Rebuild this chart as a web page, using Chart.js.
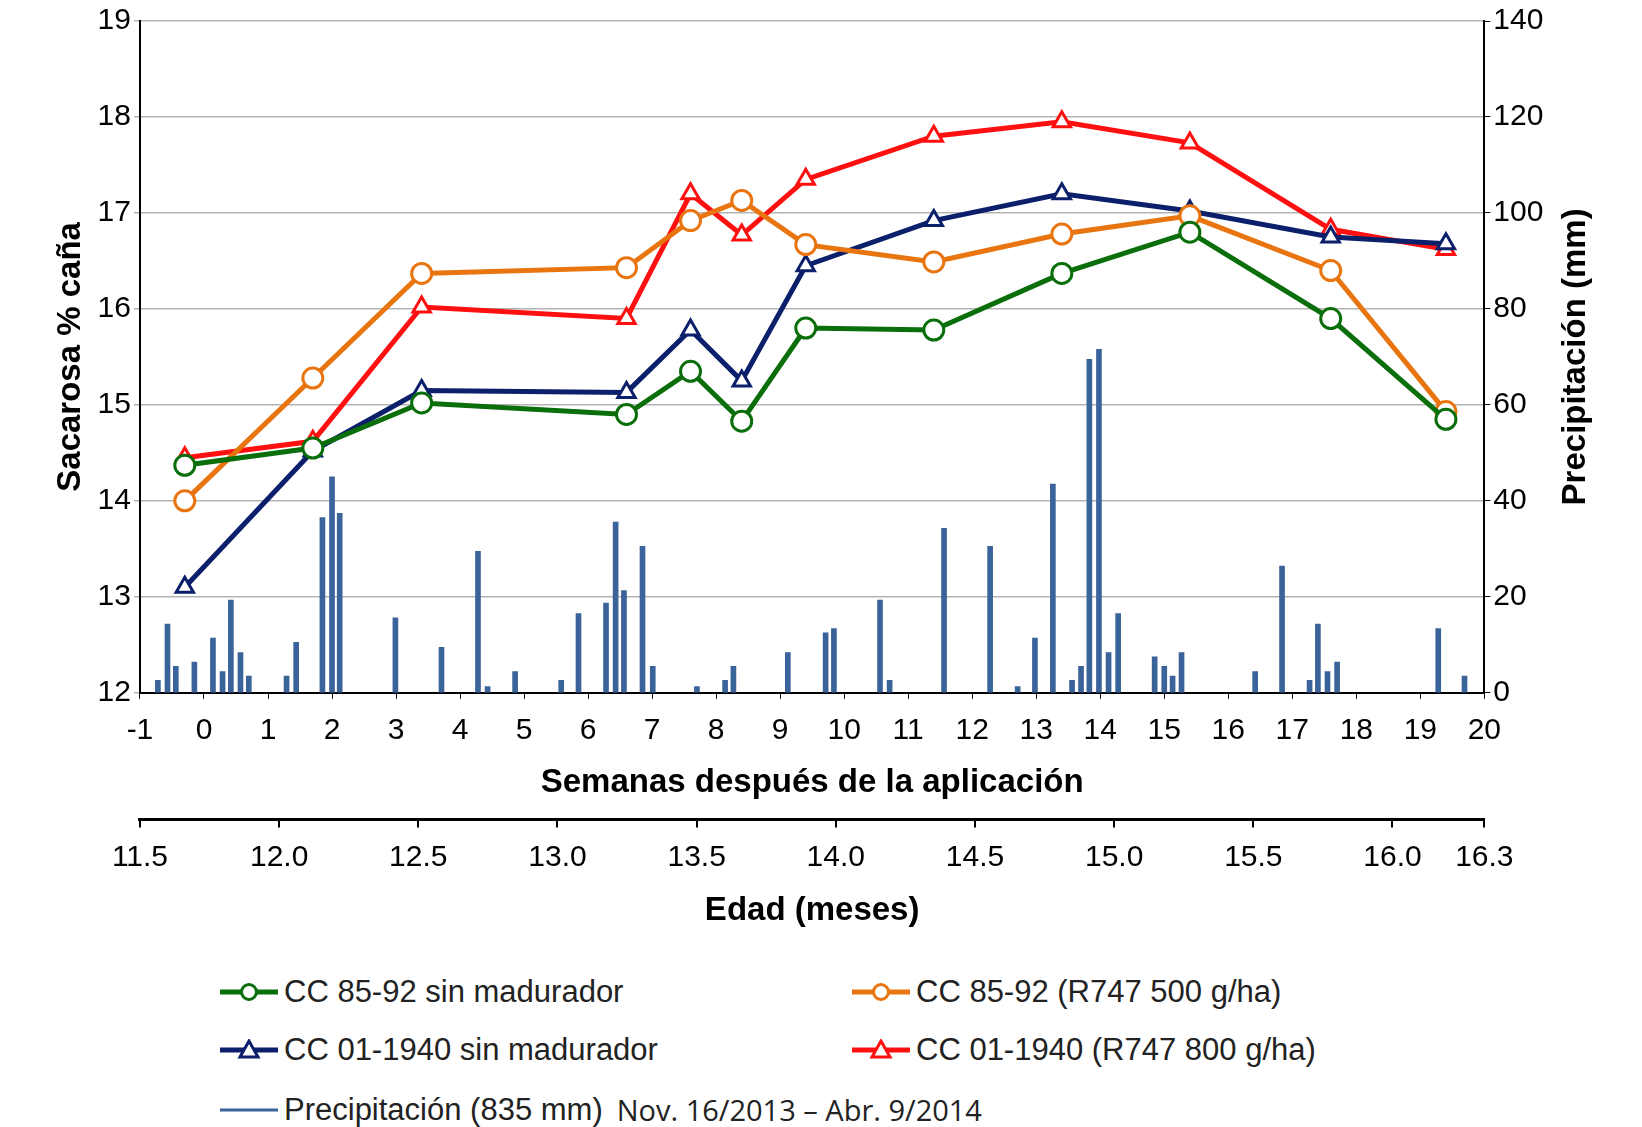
<!DOCTYPE html>
<html>
<head>
<meta charset="utf-8">
<script src="https://cdn.jsdelivr.net/npm/chart.js@4"></script>
<style>
body { margin:0; background:#fff; font-family:"Liberation Sans", Arial, sans-serif; }
#wrap { position:relative; width:1642px; height:935px; }
#legend { position:absolute; top:974px; left:218px; font-size:31px; color:#222; }
.item { position:absolute; white-space:nowrap; display:flex; align-items:center; }
.item svg { margin-right:4px; }
</style>
</head>
<body>
<div id="wrap"><canvas id="c" width="1642" height="935"></canvas></div>
<div id="legend"></div>
<script>
// weeks after application for the sucrose samples
const weeks = [-0.3, 1.7, 3.4, 6.6, 7.6, 8.4, 9.4, 11.4, 13.4, 15.4, 17.6, 19.4];
const cc8592Sin = [14.37, 14.55, 15.02, 14.9, 15.35, 14.83, 15.8, 15.78, 16.37, 16.8, 15.9, 14.85];
const cc8592R747 = [14.0, 15.28, 16.37, 16.43, 16.92, 17.13, 16.67, 16.49, 16.78, 16.97, 16.4, 14.93];
const cc011940Sin = [13.1, 14.52, 15.15, 15.13, 15.78, 15.25, 16.45, 16.92, 17.2, 17.02, 16.75, 16.68];
const cc011940R747 = [14.45, 14.62, 16.02, 15.9, 17.2, 16.77, 17.35, 17.8, 17.95, 17.73, 16.83, 16.62];

// daily rain events (week position, mm)
const rainWeeks = [-0.72, -0.57, -0.44, -0.15, 0.14, 0.29, 0.42, 0.57, 0.70, 1.29, 1.44, 1.85, 2.0, 2.12,
  2.99, 3.71, 4.28, 4.43, 4.86, 5.58, 5.85, 6.28, 6.43, 6.56, 6.85, 7.01, 7.70, 8.14, 8.27, 9.12, 9.71, 9.84,
  10.56, 10.71, 11.56, 12.28, 12.71, 12.98, 13.26, 13.56, 13.70, 13.83, 13.98, 14.13, 14.28, 14.85, 15.0,
  15.13, 15.27, 16.42, 16.84, 17.27, 17.40, 17.55, 17.70, 19.28, 19.69];
const rainMm = [2.6, 14.3, 5.5, 6.4, 11.4, 4.4, 19.3, 8.4, 3.5, 3.5, 10.5, 36.5, 45, 37.4,
  15.6, 9.5, 29.5, 1.3, 4.4, 2.6, 16.5, 18.7, 35.6, 21.3, 30.5, 5.5, 1.3, 2.6, 5.5, 8.4, 12.5, 13.4,
  19.3, 2.6, 34.3, 30.5, 1.3, 11.4, 43.5, 2.6, 5.5, 69.5, 71.6, 8.4, 16.5, 7.5, 5.5,
  3.5, 8.4, 4.4, 26.4, 2.6, 14.3, 4.4, 6.4, 13.4, 3.5];

// age in months, second bottom axis
const ageTicks = [11.5, 12.0, 12.5, 13.0, 13.5, 14.0, 14.5, 15.0, 15.5, 16.0, 16.33];
const ageMin = 11.5, ageMax = 16.33;

const pts = ys => ys.map((y, i) => ({x: weeks[i], y: y}));
const series = [
  {label: 'CC 85-92 sin madurador', data: cc8592Sin, color: '#0a6e0a', style: 'circle'},
  {label: 'CC 85-92 (R747 500 g/ha)', data: cc8592R747, color: '#e8750f', style: 'circle'},
  {label: 'CC 01-1940 sin madurador', data: cc011940Sin, color: '#0b1f6b', style: 'triangle'},
  {label: 'CC 01-1940 (R747 800 g/ha)', data: cc011940R747, color: '#ff1010', style: 'triangle'}
];

const datasets = series.map(s => ({
  type: 'line', label: s.label, data: pts(s.data), yAxisID: 'y', xAxisID: 'x',
  borderColor: s.color, borderWidth: 5, pointStyle: s.style, pointRadius: 10,
  pointBorderWidth: 3, pointBackgroundColor: '#fff', pointBorderColor: s.color, order: 1
}));
datasets.push({
  type: 'bar', label: 'Precipitación (835 mm)', data: rainWeeks.map((w, i) => ({x: w, y: rainMm[i]})),
  yAxisID: 'y2', xAxisID: 'x', backgroundColor: '#3a6399', barThickness: 5, order: 2
});

const tickFont = {family: 'Liberation Sans', size: 30};
const titleFont = {family: 'Liberation Sans', size: 33, weight: 'bold'};

// right axis title reads bottom-to-top like the original
const rightTitle = {
  id: 'rightTitle',
  afterDraw(chart) {
    const a = chart.chartArea, ctx = chart.ctx, s = chart.scales.y2;
    ctx.save();
    ctx.translate(s.right - 18, (a.top + a.bottom) / 2);
    ctx.rotate(-Math.PI / 2);
    ctx.font = 'bold 33px "Liberation Sans"';
    ctx.fillStyle = '#000';
    ctx.textAlign = 'center';
    ctx.textBaseline = 'middle';
    ctx.fillText('Precipitación (mm)', 0, 0);
    ctx.restore();
  }
};

new Chart(document.getElementById('c'), {
  data: {datasets: datasets},
  options: {
    responsive: false, animation: false,
    layout: {padding: {top: 6, right: 48, left: 47, bottom: 0}},
    plugins: {legend: {display: false}, tooltip: {enabled: false}},
    scales: {
      x: {
        type: 'linear', position: 'bottom', min: -1, max: 20, weight: 1, offset: false,
        ticks: {stepSize: 1, font: tickFont, color: '#000', padding: 14},
        grid: {drawOnChartArea: false, color: '#000', tickLength: 6, offset: false},
        border: {color: '#000', width: 2},
        title: {display: true, text: 'Semanas después de la aplicación', font: titleFont, color: '#000', padding: {top: 0, bottom: 17}}
      },
      x2: {
        type: 'linear', position: 'bottom', min: ageMin, max: ageMax, weight: 2, offset: false,
        afterBuildTicks: ax => { ax.ticks = ageTicks.map(v => ({value: v})); },
        ticks: {font: tickFont, color: '#000', autoSkip: false, maxRotation: 0, padding: 12,
          callback: v => v.toFixed(1)},
        grid: {drawOnChartArea: false, color: '#000', tickLength: 8, lineWidth: 2},
        border: {color: '#000', width: 3},
        title: {display: true, text: 'Edad (meses)', font: titleFont, color: '#000', padding: {top: 4}}
      },
      y: {
        position: 'left', min: 12, max: 19,
        ticks: {stepSize: 1, font: tickFont, color: '#000'},
        grid: {color: '#b4b4b4', lineWidth: 1.5, tickLength: 6},
        border: {color: '#000', width: 2},
        title: {display: true, text: 'Sacarosa % caña', font: titleFont, color: '#000'}
      },
      y2: {
        position: 'right', min: 0, max: 140,
        ticks: {stepSize: 20, font: tickFont, color: '#000'},
        grid: {drawOnChartArea: false, color: '#000', tickLength: 6},
        border: {color: '#000', width: 2},
        title: {display: true, text: 'Precipitación (mm)', font: titleFont, color: 'rgba(0,0,0,0)'}
      }
    }
  },
  plugins: [rightTitle]
});

// legend
function icon(color, style, bar) {
  let m = '';
  if (bar) return `<svg width="62" height="22"><line x1="2" y1="11" x2="60" y2="11" stroke="${color}" stroke-width="3"/></svg>`;
  if (style === 'circle') m = `<circle cx="31" cy="11" r="7.5" fill="#fff" stroke="${color}" stroke-width="3"/>`;
  else m = `<polygon points="31,2 40,18 22,18" fill="#fff" stroke="${color}" stroke-width="3"/>`;
  return `<svg width="62" height="22"><line x1="2" y1="11" x2="60" y2="11" stroke="${color}" stroke-width="5"/>${m}</svg>`;
}
const pos = [[0, 0], [632, 0], [0, 58], [632, 58]];
const lg = document.getElementById('legend');
series.forEach((s, i) => {
  lg.innerHTML += `<div class="item" style="left:${pos[i][0]}px;top:${pos[i][1]}px">${icon(s.color, s.style)}${s.label}</div>`;
});
lg.innerHTML += `<div class="item" style="left:0;top:116px">${icon('#3a6399', '', true)}Precipitación (835 mm)<span style="font-family:'Open Sans';margin-left:14px;font-size:29px">Nov. 16/2013 – Abr. 9/2014</span></div>`;
</script>
</body>
</html>
